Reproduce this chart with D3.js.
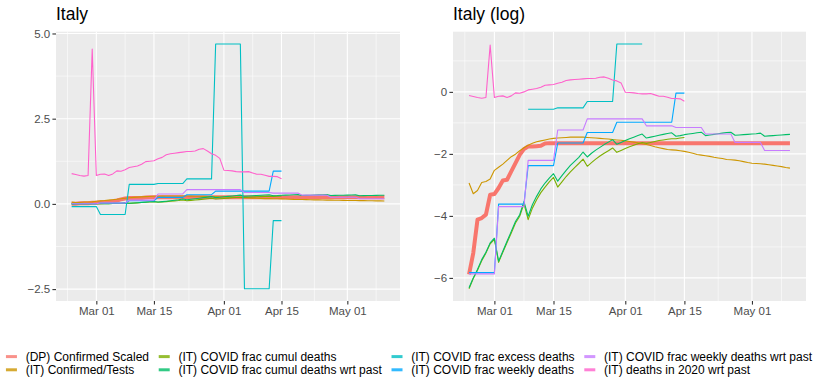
<!DOCTYPE html>
<html>
<head>
<meta charset="utf-8">
<script src="https://cdn.jsdelivr.net/npm/d3@7"></script>
<style>
  body { margin: 0; background: #fff; }
  svg text { font-family: "Liberation Sans", Arial, sans-serif; }
</style>
</head>
<body>
<div id="chart"></div>
<script>
// Italy: daily values from Feb 24 to May 10 2020, one row per week (7 days)

const firstDay = new Date(2020, 1, 24);
const lastDay = new Date(2020, 4, 10);

const dpConfirmedScaled = [
  0.00277, 0.00552, 0.01624, 0.01708, 0.01906, 0.03626, 0.03703,
  0.04505, 0.05750, 0.05878, 0.07684, 0.1003, 0.1313, 0.1579,
  0.1720, 0.1720, 0.1738, 0.1755, 0.1892, 0.1915, 0.1915,
  0.1915, 0.1915, 0.1915, 0.1915, 0.1915, 0.1915, 0.1915,
  0.1915, 0.1915, 0.1915, 0.1915, 0.1915, 0.1915, 0.1915,
  0.1915, 0.1915, 0.1915, 0.1915, 0.1915, 0.1915, 0.1915,
  0.1915, 0.1915, 0.1915, 0.1915, 0.1915, 0.1915, 0.1915,
  0.1915, 0.1915, 0.1915, 0.1915, 0.1915, 0.1915, 0.1915,
  0.1915, 0.1915, 0.1915, 0.1915, 0.1915, 0.1915, 0.1915,
  0.1915, 0.1915, 0.1915, 0.1915, 0.1915, 0.1915, 0.1915,
  0.1915, 0.1915, 0.1915, 0.1915, 0.1915, 0.1915, 0.1915
];

const itConfirmedTests = [
  0.05287, 0.03744, 0.04159, 0.05393, 0.05558, 0.06021, 0.07966,
  0.08804, 0.09730, 0.1097, 0.1237, 0.1340, 0.1496, 0.1653,
  0.1791, 0.1901, 0.1999, 0.2060, 0.2122, 0.2187, 0.2231,
  0.2254, 0.2276, 0.2299, 0.2322, 0.2322, 0.2322, 0.2322,
  0.2299, 0.2276, 0.2254, 0.2231, 0.2209, 0.2187, 0.2144,
  0.2122, 0.2101, 0.2060, 0.2019, 0.1979, 0.1940, 0.1882,
  0.1827, 0.1773, 0.1703, 0.1653, 0.1604, 0.1557, 0.1541,
  0.1526, 0.1496, 0.1466, 0.1423, 0.1381, 0.1327, 0.1300,
  0.1275, 0.1249, 0.1212, 0.1188, 0.1165, 0.1130, 0.1119,
  0.1108, 0.1086, 0.1054, 0.1023, 0.1003, 0.09926, 0.09827,
  0.09730, 0.09537, 0.09348, 0.09163, 0.08982, 0.08716, 0.08544
];

const itCumulDeaths = [
  0.001747, 0.002430, 0.003183, 0.004296, 0.005517, 0.007447, 0.008566,
  0.004087, 0.005685, 0.007751, 0.01057, 0.01455, 0.01813, 0.02732,
  0.01624, 0.02352, 0.03081, 0.03877, 0.04642, 0.05502, 0.06329,
  0.04642, 0.05502, 0.06522, 0.07577, 0.08716, 0.09926, 0.1142,
  0.09072, 0.1023, 0.1142, 0.1262, 0.1381, 0.1496, 0.1637,
  0.1423, 0.1511, 0.1604, 0.1703, 0.1791, 0.1882, 0.1959,
  0.1901, 0.1959, 0.2019, 0.2080, 0.2122, 0.2165, 0.2209,
  0.2209, 0.2254, 0.2299, null, null, null, null,
  null, null, null, null, null, null, null,
  null, null, null, null, null, null, null,
  null, null, null, null, null, null, null
];

const itCumulDeathsPast = [
  0.001800, 0.002479, 0.003247, 0.004472, 0.005685, 0.007673, 0.008915,
  0.004254, 0.005858, 0.008067, 0.01111, 0.01530, 0.01906, 0.02901,
  0.01813, 0.02625, 0.03439, 0.04372, 0.05287, 0.06204, 0.07136,
  0.05613, 0.06721, 0.07966, 0.09348, 0.1065, 0.1212, 0.1437,
  0.1225, 0.1381, 0.1526, 0.1670, 0.1827, 0.1979, 0.2144,
  0.1845, 0.1959, 0.2080, 0.2209, 0.2322, 0.2441, 0.2567,
  0.2254, 0.2322, 0.2393, 0.2466, 0.2541, 0.2618, 0.2671,
  0.2393, 0.2441, 0.2516, 0.2567, 0.2618, 0.2671, 0.2725,
  0.2441, 0.2491, 0.2541, 0.2592, 0.2645, 0.2698, 0.2725,
  0.2466, 0.2491, 0.2516, 0.2541, 0.2567, 0.2592, 0.2645,
  0.2393, 0.2417, 0.2441, 0.2466, 0.2491, 0.2516, 0.2541
];

const itExcessDeaths = [
  -0.08, -0.08, -0.08, -0.08, -0.08, -0.08, -0.08,
  -0.31, -0.31, -0.31, -0.31, -0.31, -0.31, -0.31,
  0.5724, 0.5724, 0.5724, 0.5724, 0.5724, 0.5724, 0.5724,
  0.5975, 0.5975, 0.5975, 0.5975, 0.5975, 0.5975, 0.5975,
  0.7327, 0.7327, 0.7327, 0.7327, 0.7327, 0.7327, 0.7327,
  4.693, 4.693, 4.693, 4.693, 4.693, 4.693, 4.693,
  -2.49, -2.49, -2.49, -2.49, -2.49, -2.49, -2.49,
  -0.49, -0.49, -0.49, null, null, null, null,
  null, null, null, null, null, null, null,
  null, null, null, null, null, null, null,
  null, null, null, null, null, null, null
];

const itWeeklyDeaths = [
  0.002938, 0.002938, 0.002938, 0.002938, 0.002938, 0.002938, 0.002938,
  0.02678, 0.02678, 0.02678, 0.02678, 0.02678, 0.02678, 0.02678,
  0.09255, 0.09255, 0.09255, 0.09255, 0.09255, 0.09255, 0.09255,
  0.1920, 0.1920, 0.1920, 0.1920, 0.1920, 0.1920, 0.1920,
  0.2698, 0.2698, 0.2698, 0.2698, 0.2698, 0.2698, 0.2698,
  0.3753, 0.3753, 0.3753, 0.3753, 0.3753, 0.3753, 0.3753,
  0.3753, 0.3753, 0.3753, 0.3753, 0.3753, 0.3753, 0.3753,
  0.9608, 0.9608, 0.9608, null, null, null, null,
  null, null, null, null, null, null, null,
  null, null, null, null, null, null, null,
  null, null, null, null, null, null, null
];

const itWeeklyDeathsPast = [
  0.002823, 0.002823, 0.002823, 0.002823, 0.002823, 0.002823, 0.002823,
  0.02472, 0.02472, 0.02472, 0.02472, 0.02472, 0.02472, 0.02472,
  0.1097, 0.1097, 0.1097, 0.1097, 0.1097, 0.1097, 0.1097,
  0.2923, 0.2923, 0.2923, 0.2923, 0.2923, 0.2923, 0.2923,
  0.4190, 0.4190, 0.4190, 0.4190, 0.4190, 0.4190, 0.4190,
  0.4190, 0.4190, 0.4190, 0.4190, 0.4190, 0.4190, 0.4190,
  0.3345, 0.3345, 0.3345, 0.3345, 0.3345, 0.3345, 0.3345,
  0.3166, 0.3166, 0.3166, 0.3166, 0.3166, 0.3166, 0.3166,
  0.2567, 0.2567, 0.2567, 0.2567, 0.2567, 0.2567, 0.2567,
  0.1959, 0.1959, 0.1959, 0.1959, 0.1959, 0.1959, 0.1959,
  0.1511, 0.1511, 0.1511, 0.1511, 0.1511, 0.1511, 0.1511
];

const itDeaths2020Past = [
  0.889, 0.861, 0.833, 0.815, 0.833, 4.54, 0.833,
  0.869, 0.879, 0.833, 0.879, 0.969, 0.958, 1.000,
  1.066, 1.090, 1.113, 1.162, 1.240, 1.252, 1.266,
  1.322, 1.365, 1.440, 1.471, 1.487, 1.504, 1.520,
  1.536, 1.536, 1.553, 1.603, 1.621, 1.553, 1.471,
  1.425, 1.336, 0.989, 0.979, 0.969, 0.947, 0.938,
  0.938, 0.947, 0.908, 0.869, 0.869, 0.842, 0.807,
  0.807, 0.799, 0.740, null, null, null, null,
  null, null, null, null, null, null, null,
  null, null, null, null, null, null, null,
  null, null, null, null, null, null, null
];

const seriesNames = [
  "(DP) Confirmed Scaled",
  "(IT) Confirmed/Tests",
  "(IT) COVID frac cumul deaths",
  "(IT) COVID frac cumul deaths wrt past",
  "(IT) COVID frac excess deaths",
  "(IT) COVID frac weekly deaths",
  "(IT) COVID frac weekly deaths wrt past",
  "(IT) deaths in 2020 wrt past"
];
const seriesValues = [
  dpConfirmedScaled, itConfirmedTests, itCumulDeaths, itCumulDeathsPast,
  itExcessDeaths, itWeeklyDeaths, itWeeklyDeathsPast, itDeaths2020Past
];
const seriesColors = ["#F8766D", "#CD9600", "#7CAE00", "#00BE67", "#00BFC4", "#00A9FF", "#C77CFF", "#FF61CC"];

// axis breaks
const xTickDates = ["2020-03-01", "2020-03-15", "2020-04-01", "2020-04-15", "2020-05-01"];
const xTickLabels = ["Mar 01", "Mar 15", "Apr 01", "Apr 15", "May 01"];
const xMinorDates = ["2020-02-23", "2020-03-08", "2020-03-23T12:00", "2020-04-08", "2020-04-23", "2020-05-08"];
const yTicksLinear = [-2.5, 0, 2.5, 5];
const yTicksLog = [-6, -4, -2, 0];

const width = 814, height = 380;
const fontAxis = "11.5px";
const parseDay = s => new Date(s.length > 10 ? s : s + "T00:00");

const days = d3.timeDay.range(firstDay, d3.timeDay.offset(lastDay, 1));

const svg = d3.select("#chart").append("svg")
  .attr("width", width)
  .attr("height", height);

function midpoints(arr) {
  const out = [];
  for (let i = 0; i < arr.length - 1; i++) out.push((arr[i] + arr[i + 1]) / 2);
  return out;
}

function buildPanel(p) {
  const g = svg.append("g");

  // x scale with ggplot-like 5% expansion
  const span = lastDay - firstDay;
  const x = d3.scaleTime()
    .domain([new Date(+firstDay - span * 0.05), new Date(+lastDay + span * 0.05)])
    .range([p.left, p.right]);

  const allVals = [];
  seriesValues.forEach(s => s.forEach(v => {
    if (v != null && isFinite(p.tf(v))) allVals.push(p.tf(v));
  }));
  const [lo, hi] = d3.extent(allVals);
  const pad = (hi - lo) * 0.05;
  const y = d3.scaleLinear()
    .domain([lo - pad, hi + pad])
    .range([p.bottom, p.top]);

  // panel background
  g.append("rect")
    .attr("x", p.left).attr("y", p.top)
    .attr("width", p.right - p.left).attr("height", p.bottom - p.top)
    .attr("fill", "#EBEBEB");

  // minor grid
  const yMinor = midpoints(p.ticks).concat([p.ticks[p.ticks.length - 1] + (p.ticks[1] - p.ticks[0]) / 2])
    .filter(v => v > y.domain()[0] && v < y.domain()[1]);
  g.selectAll(".ymin").data(yMinor).enter().append("line")
    .attr("x1", p.left).attr("x2", p.right)
    .attr("y1", d => y(d)).attr("y2", d => y(d))
    .attr("stroke", "#fff").attr("stroke-width", 0.55);
  g.selectAll(".xmin").data(xMinorDates.map(parseDay)).enter().append("line")
    .attr("x1", d => x(d)).attr("x2", d => x(d))
    .attr("y1", p.top).attr("y2", p.bottom)
    .attr("stroke", "#fff").attr("stroke-width", 0.55);

  // major grid
  g.selectAll(".ymaj").data(p.ticks).enter().append("line")
    .attr("x1", p.left).attr("x2", p.right)
    .attr("y1", d => y(d)).attr("y2", d => y(d))
    .attr("stroke", "#fff").attr("stroke-width", 1.1);
  g.selectAll(".xmaj").data(xTickDates.map(parseDay)).enter().append("line")
    .attr("x1", d => x(d)).attr("x2", d => x(d))
    .attr("y1", p.top).attr("y2", p.bottom)
    .attr("stroke", "#fff").attr("stroke-width", 1.1);

  // lines
  const line = d3.line()
    .defined(d => d.v != null && isFinite(p.tf(d.v)))
    .x(d => x(d.date))
    .y(d => y(p.tf(d.v)));

  seriesValues.forEach((vals, i) => {
    const pts = vals.map((v, k) => ({ date: days[k], v: v }));
    g.append("path")
      .datum(pts)
      .attr("fill", "none")
      .attr("stroke", seriesColors[i])
      .attr("stroke-width", i === 0 ? 4 : 1.1)
      .attr("stroke-linejoin", "round")
      .attr("d", line);
  });

  // axes
  const yAxis = g.append("g")
    .attr("transform", `translate(${p.left},0)`)
    .call(d3.axisLeft(y).tickValues(p.ticks).tickFormat(p.fmt).tickSize(3.6).tickPadding(2.2));
  const xAxis = g.append("g")
    .attr("transform", `translate(0,${p.bottom})`)
    .call(d3.axisBottom(x).tickValues(xTickDates.map(parseDay))
      .tickFormat((d, i) => xTickLabels[i]).tickSize(3.6).tickPadding(2.5));
  [yAxis, xAxis].forEach(a => {
    a.select(".domain").remove();
    a.selectAll(".tick line").attr("stroke", "#333333").attr("stroke-width", 1.1);
    a.selectAll("text").attr("fill", "#4D4D4D").style("font-size", fontAxis);
  });

  // title
  svg.append("text")
    .attr("x", p.left).attr("y", 20)
    .attr("fill", "#000")
    .style("font-size", "17.5px")
    .text(p.title);
}

buildPanel({
  title: "Italy", left: 56, right: 400, top: 31.7, bottom: 301,
  tf: v => v, ticks: yTicksLinear, fmt: d3.format(".1f")
});
buildPanel({
  title: "Italy (log)", left: 453, right: 806, top: 31.7, bottom: 301,
  tf: v => Math.log(v), ticks: yTicksLog, fmt: d3.format("d")
});

// legend: 4 columns x 2 rows, centred under both panels
function buildLegend() {
  const keyW = 11, keyGap = 8.7, colGap = 9.7;
  const rowY = [356.6, 369.8];
  const leg = svg.append("g");
  const cols = [];
  for (let c = 0; c < seriesNames.length / 2; c++) cols.push([c * 2, c * 2 + 1]);

  // measure texts
  const probe = leg.append("text").style("font-size", "12px");
  const colW = cols.map(col => d3.max(col, i => probe.text(seriesNames[i]).node().getComputedTextLength()));
  probe.remove();

  const total = d3.sum(colW) + cols.length * (keyW + keyGap) + (cols.length - 1) * colGap;
  let cx = 409 - total / 2;
  cols.forEach((col, c) => {
    col.forEach((i, r) => {
      leg.append("line")
        .attr("x1", cx).attr("x2", cx + keyW)
        .attr("y1", rowY[r]).attr("y2", rowY[r])
        .attr("stroke", seriesColors[i])
        .attr("stroke-width", 3)
        .attr("opacity", 0.8);
      leg.append("text")
        .attr("x", cx + keyW + keyGap)
        .attr("y", rowY[r] + 4.2)
        .attr("fill", "#000")
        .style("font-size", "12px")
        .text(seriesNames[i]);
    });
    cx += keyW + keyGap + colW[c] + colGap;
  });
}

buildLegend();
</script>
</body>
</html>
